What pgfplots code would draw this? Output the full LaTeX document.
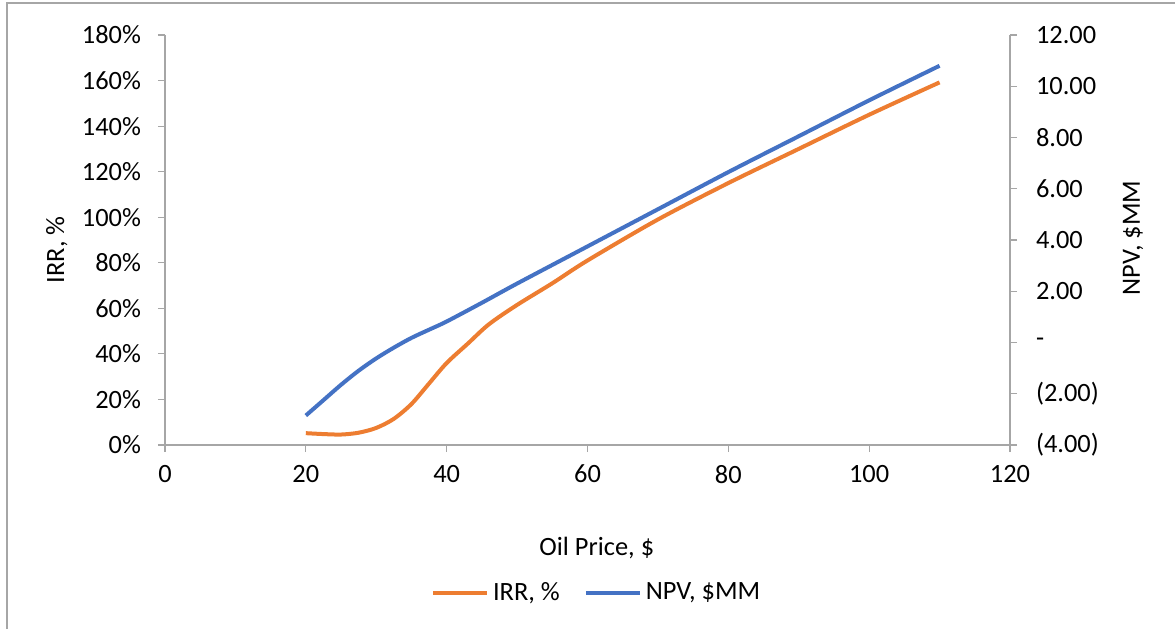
\documentclass[border=0pt]{standalone}
\usepackage{pgfplots}
\pgfplotsset{compat=1.18}
\usepackage{fontspec}
\setmainfont{Carlito}

\definecolor{irrorange}{HTML}{ED7D31}
\definecolor{npvblue}{HTML}{4472C4}
\definecolor{axgray}{HTML}{A6A6A6}

\newcommand{\chartfont}{\fontsize{13.2}{15}\selectfont}

\begin{document}
\begin{tikzpicture}[font=\chartfont]
% page frame
\path[use as bounding box] (-82.5pt,-92pt) rectangle (505pt,222.5pt);
\draw[axgray, line width=0.8pt] (-79pt,-92pt) -- (-79pt,221pt) -- (505pt,221pt);

\pgfplotsset{
  every axis/.append style={
    scale only axis, width=422.5pt, height=205pt,
    at={(0pt,0pt)}, anchor=south west,
    xmin=0, xmax=120,
    tick align=outside, major tick length=3.5pt,
    every tick/.style={axgray, line width=0.6pt},
    axis line style={axgray, line width=0.8pt},
    tick label style={font=\chartfont, black},
  },
}

% IRR on the left axis
\begin{axis}[
  axis x line*=bottom, axis y line*=left,
  ymin=0, ymax=180,
  xtick={0,20,...,120},
  xticklabels={0,20,40,60,80,100,120},
  ytick={0,20,...,180},
  yticklabels={0\%,20\%,40\%,60\%,80\%,100\%,120\%,140\%,160\%,180\%},
  xticklabel style={yshift=-3pt},
  yticklabel style={xshift=-5pt},
  xlabel={Oil Price, \$},
  xlabel style={at={(axis description cs:0.511,-0.251)}, anchor=center},
  ylabel={IRR, \%},
  ylabel style={at={(axis description cs:-0.128,0.476)}, anchor=center},
]
\addplot[irrorange, line width=2pt, smooth, tension=0.5] coordinates {
  (20,5.2) (22.5,4.8) (25,4.6) (27.5,5.4) (30,7.5) (32.5,11.5) (35,18)
  (37.5,27) (40,36) (43,44.5) (46,53) (50,61.5) (55,71) (60,81)
  (70,99) (80,115) (90,130) (100,145) (110,159.2)
};
\end{axis}

% NPV on the right axis
\begin{axis}[
  axis x line=none, axis y line*=right,
  ymin=-4, ymax=12,
  ytick={-4,-2,...,12},
  yticklabels={(4.00),(2.00),-,2.00,4.00,6.00,8.00,10.00,12.00},
  yticklabel style={xshift=6pt},
  ylabel={NPV, \$MM},
  ylabel style={at={(axis description cs:1.1456,0.505)}, anchor=center},
  legend columns=2,
  legend style={at={(axis description cs:0.512,-0.361)}, anchor=center,
    draw=none, fill=none, font=\chartfont,
    /tikz/every even column/.append style={column sep=10pt}},
  legend image code/.code={\draw[#1] (0pt,0pt) -- (27pt,0pt);},
]
\addlegendimage{irrorange, line width=2pt}
\addlegendentry{IRR, \%}
\addplot[npvblue, line width=2pt, smooth, tension=0.5] coordinates {
  (20,-2.85) (22.5,-2.25) (25,-1.65) (27.5,-1.1) (30,-0.62) (32.5,-0.2)
  (35,0.18) (37.5,0.5) (40,0.82) (45,1.55) (50,2.3) (60,3.75) (70,5.2)
  (80,6.65) (90,8.05) (100,9.45) (110,10.8)
};
\addlegendentry{NPV, \$MM}
\end{axis}
\end{tikzpicture}
\end{document}
